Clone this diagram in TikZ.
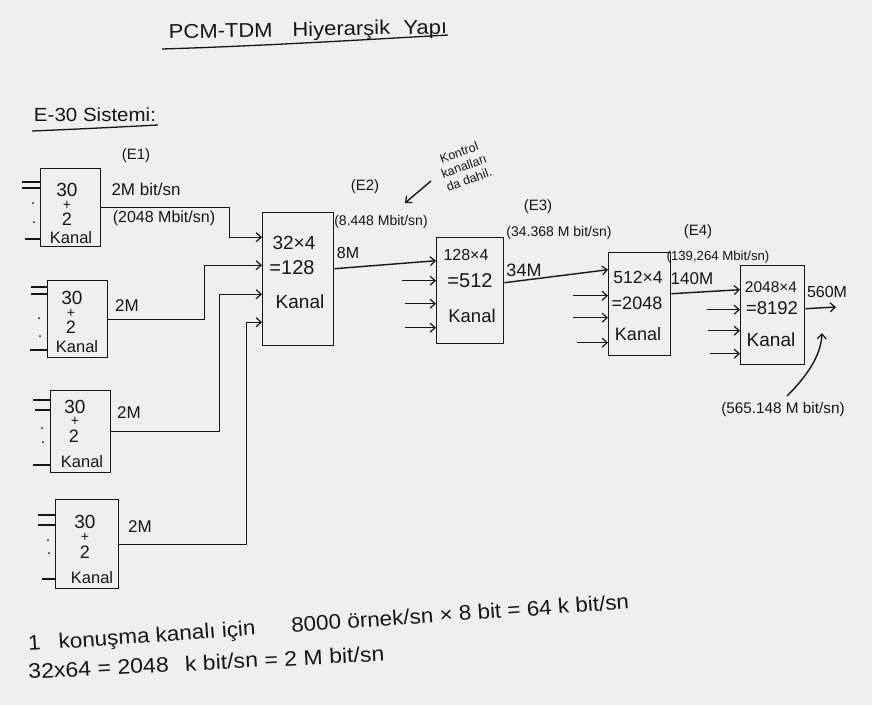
\documentclass[tikz,border=0pt]{standalone}
\usepackage{fontspec}
\usepackage{graphicx}
\setmainfont{Liberation Sans}
\usetikzlibrary{arrows.meta}
\definecolor{paper}{HTML}{EFEFEF}
\definecolor{ink}{HTML}{161616}
\newcommand{\fs}[1]{\fontsize{#1}{#1}\selectfont}
\begin{document}
\begin{tikzpicture}[x=1pt,y=-1pt, line width=1.4pt, draw=ink, text=ink,
  box/.style={draw=ink, line width=1.4pt, inner sep=0pt, anchor=north west},
  arr/.style={draw=ink, -{Straight Barb[length=5pt,width=9pt,line width=1.2pt]}},
  tx/.style={inner sep=0pt, font=\fs{#1}},
  inl/.style={draw=ink, line width=1.4pt}]
\fill[paper] (0,0) rectangle (872,705);
\useasboundingbox (0,0) rectangle (872,705);

% title
\node[tx=20, rotate=1] (title) at (308,31) {\scalebox{1.1}[1]{PCM-TDM\hspace{0.9em}Hiyerarşik\hspace{0.6em}Yapı}};
\draw[line width=1.3pt] (162,49) .. controls (260,46) and (360,40) .. (448,35);
\node[tx=19] (e30) at (95,115) {\scalebox{1.08}[1]{E-30 Sistemi:}};
\draw[line width=1.3pt] (32,131) .. controls (80,129) and (120,127) .. (158,125);

% E1 boxes
\node[box, minimum width=60pt, minimum height=78pt] (b1) at (40,168) {};
\node[tx=19] (b1a) at (67,190) {30};
\node[tx=14] (b1b) at (67,205) {+};
\node[tx=18] (b1c) at (67,219) {2};
\node[tx=16.5] (b1d) at (71,238) {Kanal};
\draw[inl] (22,182) -- (40,182) (22,188) -- (40,188) (25,239) -- (40,239);
\fill[ink] (33,203) circle (1pt) (34,222) circle (1pt);

\node[box, minimum width=60pt, minimum height=77pt] (b2) at (47,280) {};
\node[tx=19] (b2a) at (72,298) {30};
\node[tx=14] (b2b) at (71,313) {+};
\node[tx=18] (b2c) at (71,327) {2};
\node[tx=16.5] (b2d) at (77,347) {Kanal};
\draw[inl] (31,287) -- (47,287) (31,294) -- (47,294) (30,350) -- (47,350);
\fill[ink] (39,318) circle (1pt) (40,336) circle (1pt);

\node[box, minimum width=60pt, minimum height=82pt] (b3) at (50,390) {};
\node[tx=19] (b3a) at (75,407) {30};
\node[tx=14] (b3b) at (75,421) {+};
\node[tx=18] (b3c) at (74,436) {2};
\node[tx=16.5] (b3d) at (82,462) {Kanal};
\draw[inl] (33,400) -- (50,400) (35,410) -- (50,410) (33,465) -- (50,465);
\fill[ink] (42,428) circle (1pt) (43,442) circle (1pt);

\node[box, minimum width=63pt, minimum height=89pt] (b4) at (55,499) {};
\node[tx=19] (b4a) at (85,522) {30};
\node[tx=14] (b4b) at (85,537) {+};
\node[tx=18] (b4c) at (85,552) {2};
\node[tx=16.5] (b4d) at (92,578) {Kanal};
\draw[inl] (38,515) -- (55,515) (38,525) -- (55,525) (42,579) -- (55,579);
\fill[ink] (48,540) circle (1pt) (49,553) circle (1pt);

\node[tx=15] (e1) at (136,156) {(E1)};

% E2 box
\node[box, minimum width=71pt, minimum height=133pt] (e2) at (262,212) {};
\node[tx=19] (e2a) at (294,243) {32×4};
\node[tx=20] (e2b) at (292,268) {=128};
\node[tx=19] (e2c) at (300,302) {Kanal};

\draw[arr] (b1.east) -- ++(128,0) |- ([yshift=42pt]e2.west);
\draw[arr] (b2.east) -- ++(96,0) |- ([yshift=14pt]e2.west);
\draw[arr] (b3.east) -- ++(108,0) |- ([yshift=-15pt]e2.west);
\draw[arr] (b4.east) -- ++(127,0) |- ([yshift=-43pt]e2.west);

\node[tx=17] (l1a) at (146,189) {2M bit/sn};
\node[tx=16] (l1b) at (164,218) {(2048 Mbit/sn)};
\node[tx=17] (l2) at (127,306) {2M};
\node[tx=17] (l3) at (129,413) {2M};
\node[tx=17] (l4) at (140,527) {2M};

\node[tx=15] (e2l) at (365,187) {(E2)};
\node[tx=14] (r2) at (381,222) {(8.448 Mbit/sn)};
\node[tx=16] (m8) at (348,253) {8M};

% annotation
\node[tx=12, rotate=20, align=center, font=\fontsize{12.5}{14.5}\selectfont] (ann) at (464,166) {Kontrol\\kanalları\\da dahil.};
\coordinate (annend) at (405,203);
\draw[arr] (431,181) -- (annend);

% E3 box
\node[box, minimum width=67pt, minimum height=106pt] (e3) at (436,237) {};
\node[tx=16] (e3a) at (466,255) {128×4};
\node[tx=20] (e3b) at (470,281) {=512};
\node[tx=18.5] (e3c) at (472,316) {Kanal};
\draw[arr] ([yshift=10.5pt]e2.east) -- ([yshift=30pt]e3.west);
\draw[arr] ([xshift=-34pt,yshift=10pt]e3.west) -- ([yshift=10pt]e3.west);
\draw[arr] ([xshift=-31pt,yshift=-13pt]e3.west) -- ([yshift=-13pt]e3.west);
\draw[arr] ([xshift=-31pt,yshift=-37pt]e3.west) -- ([yshift=-37pt]e3.west);

\node[tx=15] (e3l) at (538,207) {(E3)};
\node[tx=14] (r3) at (559,233) {(34.368 M bit/sn)};
\node[tx=18] (m34) at (524,270) {34M};

% E4 box
\node[box, minimum width=62pt, minimum height=103pt] (e4) at (608,252) {};
\node[tx=17.5] (e4a) at (638,277) {512×4};
\node[tx=18] (e4b) at (637,303) {=2048};
\node[tx=18] (e4c) at (638,334) {Kanal};
\draw[arr] ([yshift=8pt]e3.east) -- ([yshift=34.5pt]e4.west);
\draw[arr] ([xshift=-35pt,yshift=8.5pt]e4.west) -- ([yshift=8.5pt]e4.west);
\draw[arr] ([xshift=-35pt,yshift=-13.5pt]e4.west) -- ([yshift=-13.5pt]e4.west);
\draw[arr] ([xshift=-31pt,yshift=-38.5pt]e4.west) -- ([yshift=-38.5pt]e4.west);

\node[tx=15] (e4l) at (698,232) {(E4)};
\node[tx=13.2] (r4) at (718,257) {(139,264 Mbit/sn)};
\node[tx=17] (m140) at (692,279) {140M};

% E5 box
\node[box, minimum width=64pt, minimum height=99pt] (e5) at (740,265) {};
\node[tx=15.5] (e5a) at (771,287) {2048×4};
\node[tx=18.5] (e5b) at (772,308) {=8192};
\node[tx=19] (e5c) at (771,340) {Kanal};
\draw[arr] ([yshift=10.5pt]e4.east) -- ([yshift=25.5pt]e5.west);
\draw[arr] ([xshift=-33pt,yshift=5.5pt]e5.west) -- ([yshift=5.5pt]e5.west);
\draw[arr] ([xshift=-32pt,yshift=-15.5pt]e5.west) -- ([yshift=-15.5pt]e5.west);
\draw[arr] ([xshift=-30pt,yshift=-38.5pt]e5.west) -- ([yshift=-38.5pt]e5.west);
\coordinate (out5) at (836,307);
\draw[arr] ([yshift=6.5pt]e5.east) -- (out5);
\node[tx=16] (m560) at (827,292) {560M};
\node[tx=15.3] (r5) at (783,410) {(565.148 M bit/sn)};
\coordinate (r5tip) at (822,333);
\draw[arr] (787,396) .. controls (805,378) and (821,357) .. (r5tip);

% bottom notes
\node[inner sep=0pt, anchor=base west, rotate=4, font=\fs{21}] (n1) at (28,651)
  {\scalebox{1.07}[1]{1\hspace{0.8em}konuşma kanalı için\hspace{1.6em}8000 örnek/sn × 8 bit = 64 k bit/sn}};
\node[inner sep=0pt, anchor=base west, rotate=2.9, font=\fs{21}] (n2) at (28,679)
  {\scalebox{1.1}[1]{32x64 = 2048\hspace{0.7em}k bit/sn = 2 M bit/sn}};
\end{tikzpicture}
\end{document}
